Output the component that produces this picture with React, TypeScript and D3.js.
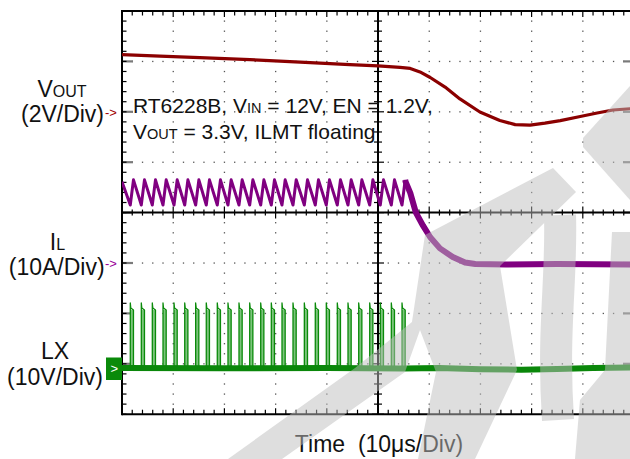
import React from "react";
import * as d3 from "d3";

// ---------- data (read from the scope shot) ----------
// time axis: 10 µs/div, 10 divisions
const timeTicksUs = [0, 10, 20, 30, 40, 50, 60, 70, 80, 90, 100];

// VOUT trace (V, 2 V/div, relative to channel marker)
const voutT = [0, 7.4, 15.2, 25, 34.8, 44.5, 50, 54.3, 56.3, 58.2, 60.2, 63.1, 66.0, 69.9, 73.8, 76.8, 79.7, 82.6, 85.6, 89.5, 92.8, 95.9, 100];
const voutV = [2.3, 2.24, 2.18, 2.1, 2.0, 1.9, 1.85, 1.79, 1.75, 1.61, 1.39, 1.01, 0.54, 0.02, -0.32, -0.48, -0.5, -0.42, -0.32, -0.16, -0.02, 0.1, 0.16];

// LX switching pulses (µs, rising edge) 10 V/div
const lxPulseT = [1.62, 3.77, 5.92, 8.01, 10.16, 12.25, 14.39, 16.46, 18.61, 20.7, 22.85, 24.94, 27.09, 29.16, 31.25, 33.4, 35.61, 37.75, 39.9, 42.05, 44.14, 46.23, 48.38, 50.45, 52.6, 54.69];
const lxHighV = 11.6;
const lxSpikeV = 13.0;
const lxOnUs = 0.62;
const lxBaseT = [0, 20, 40, 55, 62, 70, 78, 85, 92, 100];
const lxBaseV = [0.1, 0.05, 0.1, 0.0, 0.1, -0.15, -0.25, -0.1, 0.1, 0.2];

// IL (A, 10 A/div)
const ilStartA = 16.2;
const ilValleyA = 11.6;
const ilPeakA = 16.6;
const ilTransT = [55.4, 56.3, 57.4, 58.8, 60.2, 62.1, 64.6, 67.0, 69.0, 75, 85, 100];
const ilTransA = [16.2, 14.0, 10.1, 7.5, 5.2, 3.0, 1.3, 0.2, -0.1, -0.2, -0.1, -0.2];

// ---------- layout ----------
const W = 630;
const H = 459;
const PL = 122;
const PR = 634;
const PT = 11;
const PB = 414.2;
const DIV_H = (PB - PT) / 8;
const FONT = "'Liberation Sans', Arial, Helvetica, sans-serif";

const x = d3.scaleLinear().domain([0, 100]).range([PL, PR]);
const yV = d3.scaleLinear().domain([0, 2]).range([112.5, 112.5 - DIV_H]);
const yI = d3.scaleLinear().domain([0, 10]).range([263.5, 263.5 - DIV_H]);
const yX = d3.scaleLinear().domain([0, 10]).range([368.5, 368.5 - DIV_H]);

const watermark: [number, number][][] = [
  [[630, 86], [583, 138], [583, 147], [630, 200]],
  [[553, 168], [576, 192], [500, 266], [517, 370], [475, 459], [418, 459], [436, 372], [420, 330], [405, 372], [282, 459], [228, 459], [355, 368], [412, 322], [425, 235]],
  [[612, 232], [630, 232], [630, 459], [575, 459], [580, 400], [605, 370]],
];
const watermarkCurves = ["M560,215 C562,280 552,330 558,420"];

export default function App() {
  const line = d3.line<[number, number]>().x((d) => d[0]).y((d) => d[1]);

  const voutPath = line(voutT.map((t, i) => [x(t), yV(voutV[i])]));

  const ilPts: [number, number][] = [[x(0), yI(ilStartA)]];
  lxPulseT.forEach((t0) => {
    ilPts.push([x(t0), yI(ilValleyA)]);
    ilPts.push([x(t0 + lxOnUs), yI(ilPeakA)]);
  });
  const ilSwitchPath = line(ilPts);
  const ilTransPath = line([[x(lxPulseT[lxPulseT.length - 1] + lxOnUs), yI(ilPeakA)] as [number, number]].concat(ilTransT.map((t, i) => [x(t), yI(ilTransA[i])] as [number, number])));

  const lxBasePath = line(lxBaseT.map((t, i) => [x(t), yX(lxBaseV[i])]));
  const lxPulsePath = lxPulseT
    .map((t0) =>
      line([
        [x(t0), yX(0)],
        [x(t0), yX(lxSpikeV)],
        [x(t0 + 0.1), yX(lxHighV + 0.4)],
        [x(t0 + lxOnUs), yX(lxHighV)],
        [x(t0 + lxOnUs), yX(0)],
      ])
    )
    .join("");

  const xMinor = d3.range(0, 51).map((i) => x(i * 2));
  const yMinor = d3.range(0, 41).map((j) => PT + (j * DIV_H) / 5);
  const xMajor = timeTicksUs.map((t) => x(t));
  const yMajor = d3.range(0, 9).map((j) => PT + j * DIV_H);
  const cx = x(50);
  const cy = yMajor[4];

  const dots: React.ReactNode[] = [];
  xMajor.forEach((gx, i) => {
    if (i === 0 || i === 5 || i === 10) return;
    yMinor.forEach((gy, j) => {
      if (j === 0 || j === 40) return;
      dots.push(<rect key={`v${i}-${j}`} x={gx - 0.6} y={gy - 0.6} width={1.3} height={1.3} fill="#555" />);
    });
  });
  yMajor.forEach((gy, j) => {
    if (j === 0 || j === 4 || j === 8) return;
    xMinor.forEach((gx, i) => {
      if (i % 5 === 0) return;
      dots.push(<rect key={`h${j}-${i}`} x={gx - 0.6} y={gy - 0.6} width={1.3} height={1.3} fill="#555" />);
    });
  });

  const ticks: React.ReactNode[] = [];
  xMinor.forEach((gx, i) => {
    const major = i % 5 === 0;
    ticks.push(<line key={`ct${i}`} x1={gx} x2={gx} y1={cy - (major ? 6 : 3)} y2={cy + (major ? 6 : 3)} />);
    ticks.push(<line key={`tt${i}`} x1={gx} x2={gx} y1={PT} y2={PT + (major ? 6 : 4.5)} />);
    ticks.push(<line key={`bt${i}`} x1={gx} x2={gx} y1={PB} y2={PB - (major ? 6 : 4.5)} />);
  });
  yMinor.forEach((gy, j) => {
    const major = j % 5 === 0;
    ticks.push(<line key={`cv${j}`} x1={cx - (major ? 6 : 4)} x2={cx + (major ? 6 : 4)} y1={gy} y2={gy} />);
    ticks.push(<line key={`lv${j}`} x1={PL} x2={PL + 4.5} y1={gy} y2={gy} />);
  });

  return (
    <svg
      width={W}
      height={H}
      viewBox={`0 0 ${W} ${H}`}
      style={{ position: "absolute", left: 0, top: 0, background: "#fff" }}
      fontFamily={FONT}
    >
      <defs>
        <clipPath id="plot">
          <rect x={PL} y={PT} width={PR - PL} height={PB - PT} />
        </clipPath>
      </defs>
      <rect x={0} y={0} width={W} height={H} fill="#fff" />

      {dots}
      {yMajor.slice(1, 8).map((gy, j) => (
        <g key={`gb${j}`} stroke="#7a7a7a" strokeWidth={2.2}>
          <line x1={PL} x2={PL + 11} y1={gy} y2={gy} />
          <line x1={PR - 11} x2={PR} y1={gy} y2={gy} />
        </g>
      ))}
      <g stroke="#000" strokeWidth={1.2}>{ticks}</g>
      <g stroke="#000" strokeWidth={2}>
        <line x1={PL} x2={PR} y1={cy} y2={cy} />
        <line x1={cx} x2={cx} y1={PT} y2={PB} />
        <line x1={PL} x2={PL} y1={PT - 1} y2={PB + 1} />
        <line x1={PL} x2={PR} y1={PT} y2={PT} />
        <line x1={PL} x2={PR} y1={PB} y2={PB} />
      </g>

      <g clipPath="url(#plot)" fill="none" strokeLinejoin="round">
        <path d={voutPath || ""} stroke="#8b0000" strokeWidth={3.2} />
        <path d={ilSwitchPath || ""} stroke="#800080" strokeWidth={3} />
        <path d={ilTransPath || ""} stroke="#800080" strokeWidth={6} />
        {lxPulseT.map((t0, i) => (
          <rect key={`pf${i}`} x={x(t0)} y={yX(lxHighV)} width={x(t0 + lxOnUs) - x(t0)} height={yX(0) - yX(lxHighV)} fill="#7cc47c" />
        ))}
        <path d={lxPulsePath} stroke="#0a8a0a" strokeWidth={1.3} />
        <path d={lxBasePath || ""} stroke="#0a870a" strokeWidth={6} />
      </g>

      {/* channel labels */}
      <g fill="#111" fontSize={23}>
        <text x={62} y={97} textAnchor="middle">
          V<tspan fontSize={16}>OUT</tspan>
        </text>
        <text x={62.5} y={122} textAnchor="middle">(2V/Div)</text>
        <text x={57.5} y={250} textAnchor="middle">
          I<tspan fontSize={16}>L</tspan>
        </text>
        <text x={56.7} y={275} textAnchor="middle">(10A/Div)</text>
        <text x={55} y={359} textAnchor="middle">LX</text>
        <text x={55} y={385} textAnchor="middle">(10V/Div)</text>
      </g>
      <text x={105} y={117} fontSize={13} fill="#a00000">-&gt;</text>
      <text x={105} y={268} fontSize={13} fill="#990099">-&gt;</text>
      <rect x={106} y={357.5} width={16} height={22.5} fill="#0a8a0a" />
      <text x={110.5} y={373} fontSize={13} fill="#fff">&gt;</text>

      <g fill="#111" fontSize={21}>
        <text x={133} y={112.5}>
          RT6228B, V<tspan fontSize={14.5}>IN</tspan> = 12V, EN = 1.2V,
        </text>
        <text x={133} y={138.5}>
          V<tspan fontSize={14.5}>OUT</tspan> = 3.3V, ILMT floating
        </text>
      </g>
      <text x={379} y={451.5} fontSize={23} fill="#111" textAnchor="middle" style={{ whiteSpace: "pre" }}>
        {"Time  (10μs/Div)"}
      </text>

      {/* watermark */}
      <g fill="rgb(190,190,190)" opacity={0.5}>
        {watermark.map((p, i) => (
          <polygon key={`wm${i}`} points={p.map((q) => q.join(",")).join(" ")} />
        ))}
        {watermarkCurves.map((d, i) => (
          <path key={`wc${i}`} d={d} fill="none" stroke="rgb(190,190,190)" strokeWidth={32} />
        ))}
      </g>
    </svg>
  );
}
